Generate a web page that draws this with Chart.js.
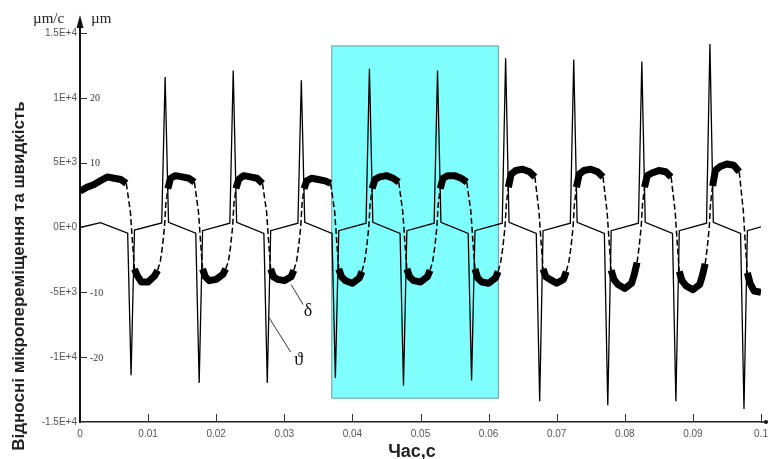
<!DOCTYPE html>
<html>
<head>
<meta charset="utf-8">
<script src="https://cdn.jsdelivr.net/npm/chart.js@4.4.0/dist/chart.umd.min.js"></script>
<style>
html, body { margin: 0; padding: 0; background: #fff; }
#wrap { width: 768px; height: 459px; position: relative; }
</style>
</head>
<body>
<div id="wrap"><canvas id="chart"></canvas></div>
<script>
// ticks
const xTickValues = [0, 0.01, 0.02, 0.03, 0.04, 0.05, 0.06, 0.07, 0.08, 0.09, 0.1];
const xTickLabels = ['0', '0.01', '0.02', '0.03', '0.04', '0.05', '0.06', '0.07', '0.08', '0.09', '0.1'];
const yTickValues = [-15000, -10000, -5000, 0, 5000, 10000, 15000];
const yTickLabels = ['-1.5E+4', '-1E+4', '-5E+3', '0E+0', '5E+3', '1E+4', '1.5E+4'];
const umTickValues = [-20, -10, 10, 20];
const umTickLabels = ['-20', '-10', '10', '20'];

// highlighted interval (s) and its vertical extent (um/c)
const zoneStart = 0.0369;
const zoneEnd = 0.0615;
const zoneTop = 14040;
const zoneBottom = -13200;

// ϑ - velocity, um/c
const velT = [
    0, 0.003, 0.007, 0.0075, 0.008, 0.012, 0.0125, 0.013,
    0.017, 0.0175, 0.018, 0.022, 0.0225, 0.023,
    0.027, 0.0275, 0.028, 0.032, 0.0325, 0.033,
    0.037, 0.0375, 0.038, 0.042, 0.0425, 0.043,
    0.047, 0.0475, 0.048, 0.052, 0.0525, 0.053,
    0.057, 0.0575, 0.058, 0.062, 0.0625, 0.063,
    0.067, 0.0675, 0.068, 0.072, 0.0725, 0.073,
    0.077, 0.0775, 0.078, 0.082, 0.0825, 0.083,
    0.087, 0.0875, 0.088, 0.092, 0.0925, 0.093,
    0.097, 0.0975, 0.098, 0.1
];
const velV = [
    0, 380, -440, -11400, -200, 350, 11600, 400,
    -440, -12000, -250, 330, 12100, 400,
    -450, -12000, -250, 330, 11350, 400,
    -450, -11600, -250, 330, 12250, 400,
    -450, -12200, -250, 330, 12100, 400,
    -450, -11800, -250, 330, 13050, 400,
    -450, -13400, -250, 330, 12950, 400,
    -450, -13700, -250, 330, 12800, 400,
    -450, -13400, -250, 330, 14150, 400,
    -450, -14000, -250, 50
];

// δ - displacement, um/c scale
const dispT = [
    0, 0.001, 0.002, 0.003, 0.004, 0.005, 0.006, 0.0068,
    0.0074, 0.0077, 0.008, 0.0084, 0.009, 0.010, 0.011,
    0.0114, 0.0118, 0.0121, 0.0124, 0.0126, 0.0129, 0.0133,
    0.014, 0.015, 0.016, 0.0168,
    0.0174, 0.0177, 0.018, 0.0184, 0.019, 0.020, 0.021,
    0.0214, 0.0218, 0.0221, 0.0224, 0.0226, 0.0229, 0.0233,
    0.024, 0.025, 0.026, 0.0268,
    0.0274, 0.0277, 0.028, 0.0284, 0.029, 0.030, 0.031,
    0.0314, 0.0318, 0.0321, 0.0324, 0.0326, 0.0329, 0.0333,
    0.034, 0.035, 0.036, 0.0368,
    0.0374, 0.0377, 0.038, 0.0384, 0.039, 0.040, 0.041,
    0.0414, 0.0418, 0.0421, 0.0424, 0.0426, 0.0429, 0.0433,
    0.044, 0.045, 0.046, 0.0468,
    0.0474, 0.0477, 0.048, 0.0484, 0.049, 0.050, 0.051,
    0.0514, 0.0518, 0.0521, 0.0524, 0.0526, 0.0529, 0.0533,
    0.054, 0.055, 0.056, 0.0568,
    0.0574, 0.0577, 0.058, 0.0584, 0.059, 0.060, 0.061,
    0.0614, 0.0618, 0.0621, 0.0624, 0.0626, 0.0629, 0.0633,
    0.064, 0.065, 0.066, 0.0668,
    0.0674, 0.0677, 0.068, 0.0684, 0.069, 0.070, 0.071,
    0.0714, 0.0718, 0.0721, 0.0724, 0.0726, 0.0729, 0.0733,
    0.074, 0.075, 0.076, 0.0768,
    0.0774, 0.0777, 0.078, 0.0784, 0.079, 0.080, 0.081,
    0.0814, 0.0818, 0.0821, 0.0824, 0.0826, 0.0829, 0.0833,
    0.084, 0.085, 0.086, 0.0868,
    0.0874, 0.0877, 0.088, 0.0884, 0.089, 0.090, 0.091,
    0.0914, 0.0918, 0.0921, 0.0924, 0.0926, 0.0929, 0.0933,
    0.094, 0.095, 0.096, 0.0968,
    0.0974, 0.0977, 0.098, 0.0984, 0.099, 0.1
];
const dispV = [
    2800, 3100, 3300, 3600, 3900, 3800, 3700, 3400,
    1200, -1100, -3200, -3700, -4200, -4200, -3700,
    -3300, -2600, -1500, 0, 1800, 3000, 3800,
    4000, 3900, 3800, 3500,
    1200, -1100, -3200, -3800, -4100, -4000, -3600,
    -3200, -2600, -1500, 0, 1800, 3000, 3700,
    4000, 3900, 3800, 3400,
    1200, -1100, -3200, -3800, -4000, -4100, -3800,
    -3300, -2600, -1500, 0, 1800, 3000, 3600,
    3800, 3700, 3600, 3400,
    1200, -1100, -3200, -3800, -4100, -4300, -3900,
    -3400, -2600, -1500, 0, 1800, 3000, 3700,
    3900, 4000, 3800, 3500,
    1200, -1100, -3200, -3800, -4100, -4200, -3800,
    -3300, -2600, -1500, 0, 1800, 3000, 3800,
    4000, 4000, 3800, 3500,
    1200, -1100, -3200, -3900, -4200, -4300, -3900,
    -3400, -2600, -1500, 0, 1800, 3100, 4100,
    4400, 4500, 4300, 3900,
    1200, -1100, -3200, -3800, -4000, -4300, -4000,
    -3400, -2600, -1500, 0, 1800, 3100, 4100,
    4400, 4500, 4300, 3900,
    1200, -1100, -3300, -4000, -4400, -4700, -4300,
    -3600, -2700, -1500, 0, 1800, 3100, 4000,
    4200, 4400, 4300, 3900,
    1200, -1200, -3400, -4100, -4500, -4800, -4400,
    -3700, -2800, -1600, 0, 1900, 3200, 4400,
    4700, 4900, 4800, 4300,
    1300, -1300, -3500, -4300, -4900, -5000
];

const serif = "'Liberation Serif', 'DejaVu Serif', serif";
const sans = "'Liberation Sans', Arial, sans-serif";

const decorPlugin = {
    id: 'decor',
    beforeDatasetsDraw(chart) {
        const { ctx, scales: { x, y } } = chart;
        const l = x.getPixelForValue(zoneStart);
        const r = x.getPixelForValue(zoneEnd);
        const t = y.getPixelForValue(zoneTop);
        const b = y.getPixelForValue(zoneBottom);
        ctx.save();
        ctx.fillStyle = '#80ffff';
        ctx.fillRect(l, t, r - l, b - t);
        ctx.strokeStyle = '#6f9f9f';
        ctx.lineWidth = 1;
        ctx.strokeRect(l + 0.5, t + 0.5, r - l - 1, b - t - 1);
        ctx.restore();
    },
    afterDraw(chart) {
        const { ctx, chartArea, scales: { x, y, y2 } } = chart;
        const ax = chartArea.left;
        const ay = chartArea.bottom;
        ctx.save();

        // axis extensions + arrows
        ctx.strokeStyle = '#111';
        ctx.fillStyle = '#111';
        ctx.lineWidth = 2;
        ctx.beginPath();
        ctx.moveTo(ax, chartArea.top);
        ctx.lineTo(ax, 24);
        ctx.stroke();
        ctx.beginPath();
        ctx.moveTo(ax, 15);
        ctx.lineTo(ax - 3.5, 28);
        ctx.lineTo(ax + 3.5, 28);
        ctx.closePath();
        ctx.fill();
        ctx.lineWidth = 1.5;
        ctx.beginPath();
        ctx.moveTo(chartArea.right, ay);
        ctx.lineTo(766, ay);
        ctx.stroke();
        ctx.beginPath();
        ctx.arc(766, ay, 2, 0, Math.PI * 2);
        ctx.fill();

        // inside tick marks
        ctx.strokeStyle = '#333';
        ctx.lineWidth = 1;
        xTickValues.forEach(v => {
            if (v === 0) return;
            const px = Math.round(x.getPixelForValue(v)) + 0.5;
            ctx.beginPath();
            ctx.moveTo(px, ay);
            ctx.lineTo(px, ay - 8);
            ctx.stroke();
        });
        yTickValues.forEach(v => {
            if (v === 0 || v === -15000) return;
            const py = Math.round(y.getPixelForValue(v)) + 0.5;
            ctx.beginPath();
            ctx.moveTo(ax, py);
            ctx.lineTo(ax + 7, py);
            ctx.stroke();
        });

        // um labels
        ctx.fillStyle = '#333';
        ctx.font = '10px ' + serif;
        ctx.textAlign = 'left';
        ctx.textBaseline = 'middle';
        umTickValues.forEach((v, i) => {
            ctx.fillText(umTickLabels[i], ax + 10, y2.getPixelForValue(v) + 1);
        });

        // units
        ctx.fillStyle = '#222';
        ctx.font = '15px ' + serif;
        ctx.textBaseline = 'alphabetic';
        ctx.fillText('µm/c', 33, 23);
        ctx.fillText('µm', 91, 23);

        // curve labels
        ctx.strokeStyle = '#333';
        ctx.lineWidth = 1;
        const dx = x.getPixelForValue(0.031), dy = y.getPixelForValue(-4400);
        ctx.beginPath();
        ctx.moveTo(dx, dy);
        ctx.lineTo(dx + 12, dy + 20);
        ctx.stroke();
        const tx = x.getPixelForValue(0.0277), ty = y.getPixelForValue(-6900);
        ctx.beginPath();
        ctx.moveTo(tx, ty);
        ctx.lineTo(tx + 22, ty + 35);
        ctx.stroke();
        ctx.fillStyle = '#111';
        ctx.font = '18px ' + serif;
        ctx.textAlign = 'center';
        ctx.textBaseline = 'middle';
        ctx.fillText('δ', dx + 17, dy + 27);
        ctx.fillText('ϑ', tx + 30, ty + 43);

        // axis titles
        ctx.fillStyle = '#222';
        ctx.font = 'bold 18px ' + sans;
        ctx.textAlign = 'center';
        ctx.textBaseline = 'alphabetic';
        ctx.fillText('Час,с', 412, 457);
        ctx.translate(24, 276);
        ctx.rotate(-Math.PI / 2);
        ctx.font = 'bold 17px ' + sans;
        ctx.fillText('Відносні мікропереміщення та швидкість', 0, 0);
        ctx.restore();
    }
};

const plateau = (ctx) => Math.abs(ctx.p0.parsed.y) >= 2700 && Math.abs(ctx.p1.parsed.y) >= 2700;

new Chart(document.getElementById('chart').getContext('2d'), {
    type: 'line',
    data: {
        datasets: [
            {
                label: 'ϑ',
                data: velT.map((t, i) => ({ x: t, y: velV[i] })),
                borderColor: '#000',
                borderWidth: 1.3,
                pointRadius: 0,
                tension: 0
            },
            {
                label: 'δ',
                data: dispT.map((t, i) => ({ x: t, y: dispV[i] })),
                borderColor: '#000',
                borderWidth: 1.5,
                borderJoinStyle: 'round',
                pointRadius: 0,
                tension: 0,
                segment: {
                    borderWidth: ctx => plateau(ctx) ? 7 : 1.5,
                    borderDash: ctx => plateau(ctx) ? [] : [6, 3]
                }
            }
        ]
    },
    options: {
        responsive: true,
        maintainAspectRatio: false,
        animation: false,
        layout: { padding: { top: 33, right: 7, left: 0, bottom: 0 } },
        plugins: {
            legend: { display: false },
            tooltip: { enabled: false }
        },
        scales: {
            x: {
                type: 'linear',
                min: 0,
                max: 0.1,
                grid: { display: false, drawTicks: false },
                border: { display: true, color: '#222', width: 1.5 },
                afterBuildTicks: s => { s.ticks = xTickValues.map(v => ({ value: v })); },
                afterFit: s => { s.height = 37; s.paddingRight = 0; s.paddingLeft = 0; },
                ticks: {
                    autoSkip: false,
                    maxRotation: 0,
                    padding: 6,
                    color: '#555',
                    font: { size: 10, family: sans },
                    callback: (v, i) => xTickLabels[i]
                }
            },
            y: {
                min: -15000,
                max: 15000,
                grid: { display: false, drawTicks: false },
                border: { display: true, color: '#111', width: 2 },
                afterBuildTicks: s => { s.ticks = yTickValues.map(v => ({ value: v })); },
                afterFit: s => { s.width = 80; },
                ticks: {
                    padding: 3,
                    color: '#555',
                    font: { size: 10, family: sans },
                    callback: (v, i) => yTickLabels[i]
                }
            },
            y2: {
                display: false,
                min: -30,
                max: 30
            }
        }
    },
    plugins: [decorPlugin]
});
</script>
</body>
</html>
